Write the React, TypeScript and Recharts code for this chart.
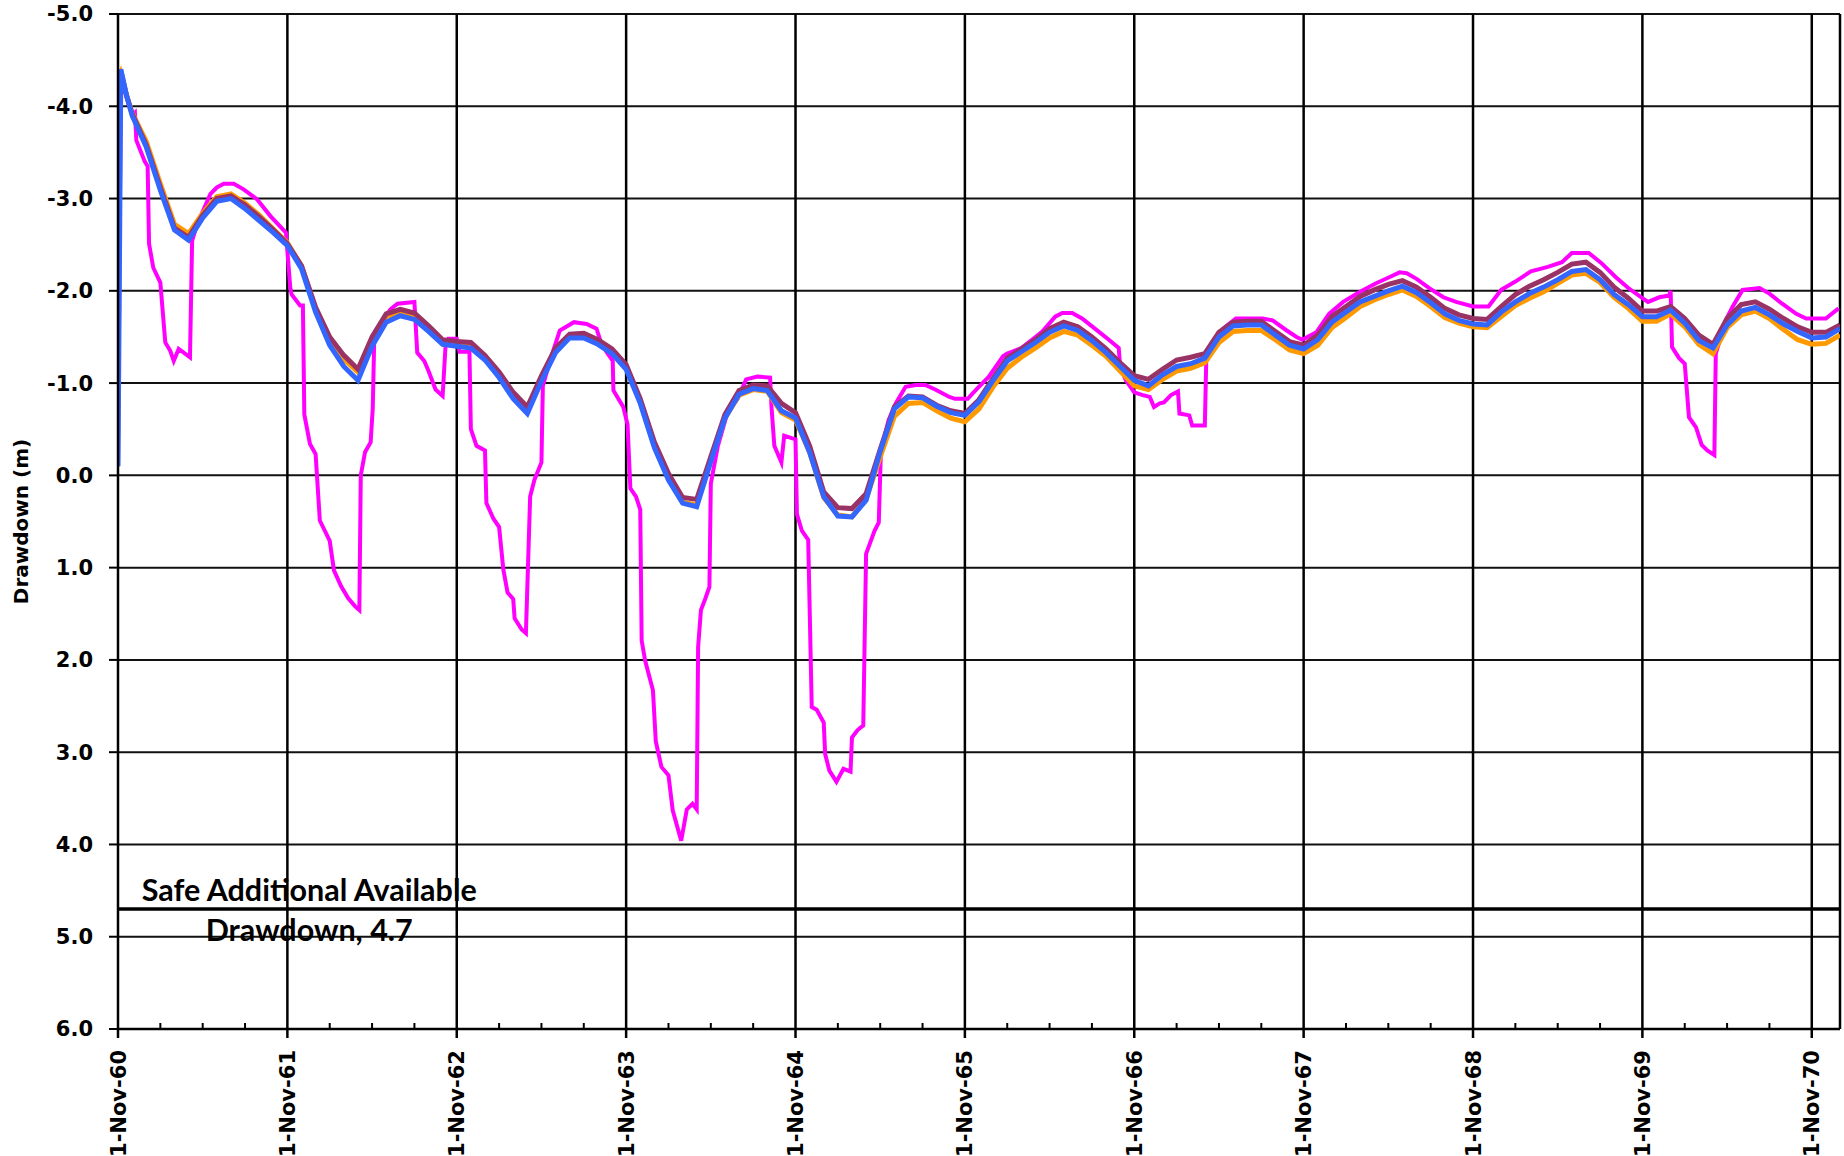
import React from 'react';
import { LineChart, Line, XAxis, YAxis, CartesianGrid, ReferenceLine, ReferenceDot } from 'recharts';

// months since 1-Nov-60 for the three smooth series
const GRID_MONTHS = [
  0, 0.2, 0.6, 1, 2, 3, 4, 5, 6, 7, 8, 9, 10, 11, 12, 13, 14, 15, 16, 17, 18, 19, 20,
  21, 22, 23, 24, 25, 26, 27, 28, 29, 30, 31, 32, 33, 34, 35, 36, 37, 38, 39, 40,
  41, 42, 43, 44, 45, 46, 47, 48, 49, 50, 51, 52, 53, 54, 55, 56, 57, 58, 59, 60,
  61, 62, 63, 64, 65, 66, 67, 68, 69, 70, 71, 72, 73, 74, 75, 76, 77, 78, 79, 80,
  81, 82, 83, 84, 85, 86, 87, 88, 89, 90, 91, 92, 93, 94, 95, 96, 97, 98, 99, 100,
  101, 102, 103, 104, 105, 106, 107, 108, 109, 110, 111, 112, 113, 114, 115, 116, 117, 118, 119, 120,
  121, 122,
];

const BLUE = [
  -0.1, -4.40, -4.12, -3.90, -3.56, -3.09, -2.66, -2.55, -2.79, -2.97, -3.00, -2.89, -2.76, -2.63, -2.49, -2.24, -1.77, -1.41, -1.18, -1.03, -1.40, -1.66, -1.73,
  -1.69, -1.56, -1.42, -1.40, -1.38, -1.25, -1.06, -0.83, -0.67, -1.02, -1.33, -1.49, -1.49, -1.42, -1.32, -1.15, -0.78, -0.30, 0.05, 0.30,
  0.34, -0.15, -0.62, -0.88, -0.94, -0.92, -0.70, -0.62, -0.25, 0.23, 0.44, 0.45, 0.27, -0.26, -0.72, -0.85, -0.84, -0.75, -0.68, -0.65,
  -0.80, -1.03, -1.24, -1.34, -1.44, -1.55, -1.62, -1.57, -1.46, -1.33, -1.18, -1.03, -0.97, -1.09, -1.18, -1.21, -1.27, -1.50, -1.62, -1.63,
  -1.63, -1.52, -1.41, -1.37, -1.47, -1.66, -1.77, -1.88, -1.94, -2.00, -2.05, -1.98, -1.87, -1.75, -1.68, -1.64, -1.63, -1.77, -1.88, -1.97,
  -2.04, -2.12, -2.21, -2.23, -2.12, -1.96, -1.85, -1.72, -1.72, -1.79, -1.65, -1.46, -1.38, -1.63, -1.78, -1.82, -1.74, -1.64, -1.56, -1.49,
  -1.50, -1.59,
];

const MAROON = [
  -4.25, -4.38, -4.12, -3.92, -3.58, -3.12, -2.68, -2.58, -2.82, -3.00, -3.03, -2.93, -2.80, -2.66, -2.51, -2.27, -1.82, -1.50, -1.30, -1.15, -1.50, -1.75, -1.80,
  -1.76, -1.62, -1.47, -1.45, -1.44, -1.30, -1.12, -0.90, -0.74, -1.08, -1.38, -1.53, -1.54, -1.47, -1.37, -1.20, -0.83, -0.36, -0.02, 0.24,
  0.26, -0.20, -0.66, -0.92, -0.98, -0.97, -0.78, -0.68, -0.32, 0.18, 0.35, 0.36, 0.20, -0.28, -0.74, -0.86, -0.85, -0.76, -0.70, -0.67,
  -0.82, -1.05, -1.27, -1.37, -1.47, -1.59, -1.66, -1.61, -1.50, -1.37, -1.22, -1.08, -1.04, -1.15, -1.25, -1.28, -1.32, -1.55, -1.66, -1.67,
  -1.67, -1.56, -1.45, -1.41, -1.52, -1.72, -1.83, -1.94, -2.01, -2.07, -2.11, -2.04, -1.93, -1.81, -1.74, -1.70, -1.69, -1.83, -1.96, -2.05,
  -2.12, -2.20, -2.29, -2.31, -2.20, -2.04, -1.92, -1.78, -1.78, -1.83, -1.70, -1.52, -1.42, -1.70, -1.85, -1.88, -1.80, -1.70, -1.61, -1.55,
  -1.55, -1.63,
];

const ORANGE = [
  -4.25, -4.35, -4.12, -3.93, -3.62, -3.16, -2.72, -2.62, -2.84, -3.02, -3.05, -2.95, -2.82, -2.67, -2.52, -2.27, -1.80, -1.46, -1.26, -1.12, -1.47, -1.72, -1.77,
  -1.73, -1.60, -1.45, -1.43, -1.40, -1.27, -1.09, -0.86, -0.70, -1.04, -1.35, -1.51, -1.51, -1.44, -1.34, -1.17, -0.80, -0.32, 0.03, 0.29,
  0.32, -0.16, -0.62, -0.87, -0.93, -0.91, -0.68, -0.60, -0.25, 0.24, 0.43, 0.45, 0.26, -0.20, -0.64, -0.78, -0.79, -0.70, -0.62, -0.58,
  -0.72, -0.96, -1.16, -1.28, -1.38, -1.49, -1.56, -1.52, -1.41, -1.29, -1.13, -0.97, -0.93, -1.04, -1.13, -1.16, -1.22, -1.44, -1.56, -1.57,
  -1.57, -1.47, -1.36, -1.32, -1.41, -1.60, -1.71, -1.83, -1.90, -1.96, -2.01, -1.94, -1.83, -1.71, -1.65, -1.61, -1.60, -1.72, -1.84, -1.92,
  -1.99, -2.08, -2.17, -2.19, -2.09, -1.93, -1.81, -1.67, -1.67, -1.75, -1.61, -1.42, -1.32, -1.60, -1.74, -1.78, -1.70, -1.58, -1.47, -1.42,
  -1.43, -1.52,
];

// magenta series has its own, irregular time points
const MAGENTA_MONTHS = [
  0, 0.2, 0.6, 1.0, 1.2, 1.3, 1.9, 2.1, 2.2, 2.5, 3.0, 3.35, 3.7, 3.95, 4.3, 5.1, 5.25, 5.6, 6.0, 6.55,
  7.0, 7.5, 8.2, 8.9, 9.86, 10.8, 11.9, 12.2, 12.3, 12.9, 13.1, 13.2, 13.6, 14.0, 14.3, 15.0, 15.3, 15.8, 16.3, 16.8,
  17.1, 17.2, 17.5, 17.9, 18.05, 18.15, 18.6, 19.3, 19.8, 21.0, 21.2, 21.7, 22.0, 22.5, 23.0, 23.2, 23.4, 24.0, 24.2, 24.9,
  25.0, 25.4, 26.0, 26.1, 26.6, 27.0, 27.3, 27.6, 28.0, 28.1, 28.6, 28.9, 29.2, 29.5, 30.0, 30.1, 30.6, 31.3, 32.3, 33.2,
  33.9, 34.2, 34.6, 35.05, 35.1, 35.8, 36.1, 36.3, 36.7, 37.0, 37.1, 37.35, 37.9, 38.1, 38.5, 39.0, 39.3, 39.9, 40.3, 40.7,
  41.0, 41.1, 41.3, 41.6, 41.9, 42.0, 42.5, 43.2, 43.9, 44.5, 45.3, 46.2, 46.3, 46.5, 47.0, 47.2, 48.0, 48.1, 48.45, 48.9,
  49.15, 49.5, 50.0, 50.1, 50.4, 50.9, 51.4, 51.9, 52.0, 52.4, 52.8, 53.0, 53.6, 53.9, 54.05, 54.6, 55.1, 55.8, 56.5, 57.2,
  57.9, 58.9, 59.3, 60.2, 60.8, 61.7, 62.7, 63.0, 64.0, 65.0, 65.5, 66.4, 66.9, 67.6, 68.3, 69.3, 70.2, 70.9, 71.0, 71.4,
  72.0, 72.6, 73.1, 73.4, 73.8, 74.1, 74.6, 75.1, 75.2, 75.9, 76.1, 77.0, 77.1, 77.6, 78.3, 79.2, 81.1, 81.8, 82.8, 83.5,
  83.9, 84.9, 85.8, 86.8, 88.0, 89.1, 90.1, 90.8, 91.3, 92.0, 92.9, 93.9, 94.8, 96.0, 97.1, 98.0, 99.0, 100.1, 101.3, 102.3,
  103.0, 104.2, 105.1, 106.1, 107.0, 108.0, 108.4, 109.2, 109.9, 110.0, 110.1, 110.6, 111.0, 111.3, 111.8, 112.2, 112.6, 113.1, 113.2, 113.9,
  114.4, 115.1, 116.3, 117.0, 117.9, 118.9, 119.6, 121.0, 121.9,
];

const MAGENTA = [
  -0.1, -4.35, -4.10, -3.90, -3.93, -3.63, -3.40, -3.35, -2.51, -2.25, -2.09, -1.44, -1.35, -1.24, -1.37, -1.28, -2.54, -2.72, -2.86, -3.05,
  -3.12, -3.16, -3.16, -3.10, -2.99, -2.81, -2.63, -2.04, -1.96, -1.84, -1.84, -0.66, -0.34, -0.23, 0.49, 0.71, 1.03, 1.20, 1.33, 1.42,
  1.46, 0.0, -0.25, -0.36, -0.73, -1.45, -1.64, -1.80, -1.86, -1.88, -1.33, -1.24, -1.13, -0.93, -0.86, -1.39, -1.48, -1.48, -1.34, -1.34,
  -0.50, -0.32, -0.27, 0.30, 0.47, 0.56, 1.02, 1.27, 1.34, 1.55, 1.67, 1.71, 0.23, 0.05, -0.14, -0.97, -1.24, -1.57, -1.66, -1.64,
  -1.59, -1.45, -1.34, -1.24, -0.92, -0.74, -0.55, 0.14, 0.23, 0.37, 1.79, 2.01, 2.33, 2.88, 3.16, 3.25, 3.63, 3.96, 3.62, 3.56,
  3.62, 1.86, 1.46, 1.34, 1.21, 0.09, -0.32, -0.69, -0.83, -1.04, -1.07, -1.06, -0.74, -0.32, -0.14, -0.43, -0.39, 0.42, 0.60, 0.70,
  2.51, 2.54, 2.68, 3.02, 3.20, 3.32, 3.18, 3.21, 2.84, 2.76, 2.71, 0.85, 0.60, 0.51, -0.27, -0.60, -0.78, -0.96, -0.98, -0.98,
  -0.93, -0.85, -0.83, -0.83, -0.93, -1.07, -1.29, -1.32, -1.38, -1.50, -1.56, -1.72, -1.76, -1.76, -1.70, -1.58, -1.47, -1.38, -1.18, -1.03,
  -0.90, -0.87, -0.85, -0.74, -0.78, -0.79, -0.87, -0.91, -0.67, -0.65, -0.54, -0.54, -1.25, -1.39, -1.59, -1.70, -1.70, -1.68, -1.57, -1.50,
  -1.47, -1.55, -1.75, -1.88, -1.99, -2.08, -2.15, -2.20, -2.19, -2.13, -2.03, -1.93, -1.88, -1.83, -1.83, -2.01, -2.10, -2.21, -2.26, -2.31,
  -2.41, -2.41, -2.30, -2.15, -2.03, -1.92, -1.88, -1.93, -1.95, -2.00, -1.39, -1.27, -1.21, -0.63, -0.52, -0.33, -0.27, -0.22, -1.32, -1.68,
  -1.83, -2.01, -2.03, -1.97, -1.86, -1.75, -1.70, -1.70, -1.81,
];

const MAJOR_TICKS = [0, 12, 24, 36, 48, 60, 72, 84, 96, 108, 120];
const X_LABELS = ['1-Nov-60', '1-Nov-61', '1-Nov-62', '1-Nov-63', '1-Nov-64', '1-Nov-65', '1-Nov-66', '1-Nov-67', '1-Nov-68', '1-Nov-69', '1-Nov-70'];
const QUARTER_TICKS = [
  0, 3, 6, 9, 12, 15, 18, 21, 24, 27, 30, 33, 36, 39, 42, 45, 48, 51, 54, 57, 60,
  63, 66, 69, 72, 75, 78, 81, 84, 87, 90, 93, 96, 99, 102, 105, 108, 111, 114, 117, 120,
];
const Y_TICKS = [-5, -4, -3, -2, -1, 0, 1, 2, 3, 4, 5, 6];
const SAFE_LEVEL = 4.7;
const SAFE_LABEL_AT = 13.55; // month where the annotation is centred

const AXIS_FONT = 'DejaVu Sans, sans-serif';

const toRows = (xs: number[], ys: number[]) => xs.map((m, i) => ({ m, v: ys[i] }));

const blueData = toRows(GRID_MONTHS, BLUE);
const maroonData = toRows(GRID_MONTHS, MAROON);
const orangeData = toRows(GRID_MONTHS, ORANGE);
const magentaData = toRows(MAGENTA_MONTHS, MAGENTA);

const XTick = (props: any) => {
  const { x, y, payload } = props;
  const val = payload.value;
  if (val % 12 !== 0) {
    return <line x1={x} x2={x} y1={y} y2={y - 6} stroke="#000" strokeWidth={2} />;
  }
  const ly = y + 21;
  return (
    <g>
      <line x1={x} x2={x} y1={y} y2={y + 9} stroke="#000" strokeWidth={2.5} />
      <text
        x={x}
        y={ly}
        dy="0.36em"
        transform={`rotate(-90, ${x}, ${ly})`}
        textAnchor="end"
        fontFamily={AXIS_FONT}
        fontWeight="bold"
        fontSize={21}
        fill="#000"
      >
        {X_LABELS[val / 12]}
      </text>
    </g>
  );
};

const YTitle = (props: any) => {
  const { viewBox } = props;
  const cx = viewBox.x + 21;
  const cy = viewBox.y + viewBox.height / 2;
  return (
    <text
      x={cx}
      y={cy}
      dy="0.36em"
      transform={`rotate(-90, ${cx}, ${cy})`}
      textAnchor="middle"
      fontFamily={AXIS_FONT}
      fontWeight="bold"
      fontSize={20}
      fill="#000"
    >
      Drawdown (m)
    </text>
  );
};

const SafeLabel = (props: any) => {
  const { viewBox } = props;
  const cx = viewBox.x;
  const cy = viewBox.y;
  const style = { fontFamily: 'Lato, sans-serif', fontWeight: 700, fontSize: 30.5, fill: '#000' };
  return (
    <g>
      <text x={cx} y={cy - 19} dy="0.35em" textAnchor="middle" style={style}>Safe Additional Available</text>
      <text x={cx} y={cy + 21} dy="0.35em" textAnchor="middle" style={style}>Drawdown, 4.7</text>
    </g>
  );
};

export default function App() {
  return (
    <div style={{ position: 'absolute', left: 0, top: 0, width: 1844, height: 1156, background: '#fff' }}>
      <LineChart width={1844} height={1156} margin={{ top: 14, right: 4, bottom: 0, left: 0 }}>
        <CartesianGrid vertical={false} stroke="#111" strokeWidth={2} />
        <XAxis
          type="number"
          dataKey="m"
          domain={[0, 122]}
          ticks={QUARTER_TICKS}
          interval={0}
          height={127}
          tick={<XTick />}
          tickLine={false}
          tickSize={0}
          tickMargin={0}
          axisLine={{ stroke: '#000', strokeWidth: 2.5 }}
          allowDataOverflow
        />
        <YAxis
          type="number"
          domain={[-5, 6]}
          reversed
          ticks={Y_TICKS}
          interval={0}
          width={118}
          tickSize={9}
          tickMargin={16}
          tickFormatter={(v: number) => v.toFixed(1)}
          tick={{ fontFamily: AXIS_FONT, fontWeight: 'bold', fontSize: 21, fill: '#000' }}
          tickLine={{ stroke: '#000', strokeWidth: 2 }}
          axisLine={{ stroke: '#000', strokeWidth: 2.5 }}
          allowDataOverflow
          label={<YTitle />}
        />
        {MAJOR_TICKS.slice(1).map((t) => (
          <ReferenceLine key={t} x={t} stroke="#000" strokeWidth={2.5} />
        ))}
        <ReferenceLine x={122} stroke="#000" strokeWidth={2.5} />
        <ReferenceLine y={SAFE_LEVEL} stroke="#000" strokeWidth={3.5} />
        <Line data={magentaData} dataKey="v" type="linear" stroke="#FF00FF" strokeWidth={4} dot={false} isAnimationActive={false} />
        <Line data={orangeData} dataKey="v" type="linear" stroke="#FF9900" strokeWidth={5} dot={false} isAnimationActive={false} />
        <Line data={maroonData} dataKey="v" type="linear" stroke="#993366" strokeWidth={5} dot={false} isAnimationActive={false} />
        <Line data={blueData} dataKey="v" type="linear" stroke="#3366FF" strokeWidth={5} dot={false} isAnimationActive={false} />
        <ReferenceDot x={SAFE_LABEL_AT} y={SAFE_LEVEL} r={0} fill="none" stroke="none" label={<SafeLabel />} />
      </LineChart>
    </div>
  );
}
